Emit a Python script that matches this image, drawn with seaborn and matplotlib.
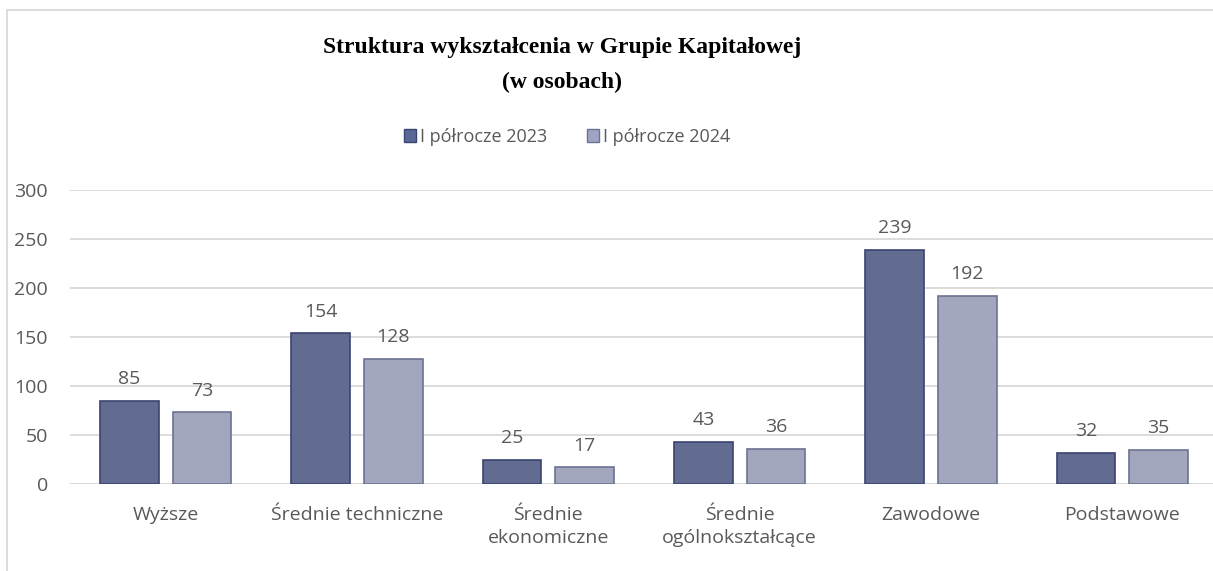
import pandas as pd
import numpy as np
import matplotlib.pyplot as plt
import seaborn as sns
from matplotlib.lines import Line2D
from matplotlib.patches import Patch

# dane z wykresu
kategorie = ['Wyższe', 'Średnie techniczne', 'Średnie\nekonomiczne',
             'Średnie\nogólnokształcące', 'Zawodowe', 'Podstawowe']
polrocze_2023 = [85, 154, 25, 43, 239, 32]
polrocze_2024 = [73, 128, 17, 36, 192, 35]
serie = ['I półrocze 2023', 'I półrocze 2024']
y_ticks = [0, 50, 100, 150, 200, 250, 300]

kolory = ['#5A6898', '#9EA4C1']
krawedzie = ['#3A4470', '#6C7292']
szary = '#595959'

df = pd.DataFrame({
    'kategoria': kategorie * 2,
    'seria': [serie[0]] * 6 + [serie[1]] * 6,
    'wartosc': polrocze_2023 + polrocze_2024,
})

sns.set_theme(style='white')
plt.rcParams['font.family'] = ['Open Sans', 'DejaVu Sans']

W, H = 1213, 571
fig = plt.figure(figsize=(W / 100, H / 100), dpi=100)
ax = fig.add_axes([70 / W, (H - 484) / H, (W - 70) / W, 294 / H])

sns.barplot(data=df, x='kategoria', y='wartosc', hue='seria',
            palette=kolory, width=0.76, gap=0.19, ax=ax, legend=False)

for cont, ec in zip(ax.containers, krawedzie):
    for bar in cont:
        bar.set_edgecolor(ec)
        bar.set_linewidth(1.2)
    ax.bar_label(cont, padding=9, fontsize=14, color=szary)

ax.set_ylim(0, 300)
ax.set_xlim(-0.5, 5.5 - 5 / 191.4)
ax.set_yticks(y_ticks)
ax.yaxis.grid(True, color='#D9D9D9', linewidth=1.3)
ax.set_axisbelow(True)
for s in ax.spines.values():
    s.set_visible(False)
ax.tick_params(axis='y', length=0, pad=16, labelsize=14, labelcolor=szary)
ax.tick_params(axis='x', length=0, pad=16, labelsize=14, labelcolor=szary)
for t in ax.get_xticklabels():
    t.set_linespacing(1.35)
ax.set_xlabel('')
ax.set_ylabel('')
ax.axhline(0, color='#D9D9D9', linewidth=1.3, zorder=0)

# tytuł
fig.text(562 / W, 1 - 47 / H, 'Struktura wykształcenia w Grupie Kapitałowej',
         ha='center', va='center', fontsize=17, fontweight='bold',
         family='Liberation Serif', color='black')
fig.text(562 / W, 1 - 82 / H, '(w osobach)',
         ha='center', va='center', fontsize=17, fontweight='bold',
         family='Liberation Serif', color='black')

# legenda
uchwyty = [Patch(facecolor=k, edgecolor=e) for k, e in zip(kolory, krawedzie)]
ax.legend(uchwyty, serie, loc='center', bbox_to_anchor=(567 / W, 1 - 137 / H),
          bbox_transform=fig.transFigure, ncol=2, frameon=False,
          handlelength=0.7, handleheight=0.7, handletextpad=0.2,
          columnspacing=2.2, fontsize=13, labelcolor=szary)

# ramka wykresu
fig.add_artist(Line2D([7 / W, 7 / W], [0, 1 - 10 / H], color='#D9D9D9', linewidth=1.3))
fig.add_artist(Line2D([7 / W, 1], [1 - 10 / H, 1 - 10 / H], color='#D9D9D9', linewidth=1.3))

fig.savefig('out.png', dpi=100)
